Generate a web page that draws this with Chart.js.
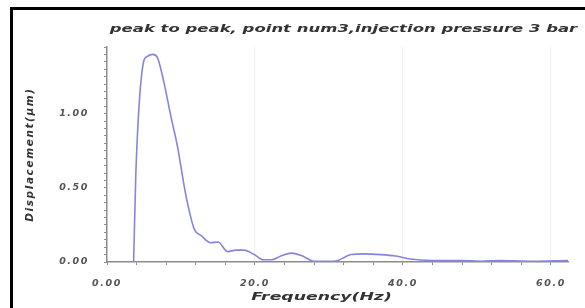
<!DOCTYPE html>
<html>
<head>
<meta charset="utf-8">
<script src="https://cdn.jsdelivr.net/npm/chart.js@4"></script>
<style>
  html, body { margin: 0; padding: 0; background: #fff; }
  #wrap { position: relative; width: 585px; height: 308px; overflow: hidden; }
  #frame {
    position: absolute; left: 10px; top: 7px; width: 600px; height: 320px;
    border-left: 3px solid #000; border-top: 3px solid #000;
  }
  canvas { position: absolute; left: 0; top: 0; }
</style>
</head>
<body>
<div id="wrap">
  <div id="frame"></div>
  <canvas id="chart" width="585" height="308"></canvas>
</div>
<script>
'use strict';

// ── Data ────────────────────────────────────────────────────────────────────

const freqHz = [3.6, 3.9, 4.9, 5.4, 6.2, 6.8, 7.7, 8.6, 9.6, 10.4, 11.0, 11.8,
                12.7, 14.0, 15.0, 16.3, 17.4, 18.5, 19.9, 21.1, 22.2, 23.5,
                24.9, 26.2, 28.0, 30.7, 33.0, 34.7, 37.0, 39.0, 41.0, 43.8,
                47.8, 50.5, 53.2, 57.3, 62.3];
const dispUm = [0.00, 0.60, 1.34, 1.385, 1.40, 1.38, 1.21, 0.99, 0.76, 0.52,
                0.37, 0.22, 0.18, 0.13, 0.135, 0.07, 0.08, 0.08, 0.05, 0.015,
                0.015, 0.04, 0.06, 0.045, 0.005, 0.005, 0.05, 0.055, 0.05,
                0.04, 0.02, 0.01, 0.01, 0.005, 0.01, 0.005, 0.01];

const xTickValues = [0, 4, 8, 12, 16, 20, 24, 28, 32, 36, 40, 44, 48, 52, 56, 60];
const xTickLabels = { 0: '0.00', 20: '20.0', 40: '40.0', 60: '60.0' };
const yTickLabels = { 0: '0.00', 0.5: '0.50', 1: '1.00' };

const TITLE   = 'peak to peak, point num3,injection pressure 3 bar';
const X_TITLE = 'Frequency(Hz)';
const Y_TITLE = 'Displacement(\u03bcm)';

// ── Chart ───────────────────────────────────────────────────────────────────

const FONT = 'DejaVu Sans, Verdana, sans-serif';
const AXIS = '#8c8c8c';
const STRETCH = 1.57;   // the source image is stretched sideways

const wideText = {
  id: 'wideText',
  beforeLayout(chart) { chart.ctx.letterSpacing = '1.6px'; },
  beforeDraw(chart)   { chart.ctx.letterSpacing = '1.6px'; },
  afterDraw(chart) {
    const { ctx, chartArea } = chart;
    const cx = (chartArea.left + chartArea.right) / 2;
    const put = (text, size, x, y) => {
      ctx.save();
      ctx.font = 'italic bold ' + size + 'px ' + FONT;
      ctx.translate(x, y);
      ctx.scale(STRETCH, 1);
      ctx.fillText(text, 0, 0);
      ctx.restore();
    };
    ctx.save();
    ctx.letterSpacing = '0px';
    ctx.fillStyle = '#333';
    ctx.textAlign = 'center';
    ctx.textBaseline = 'middle';
    put(TITLE, 10.5, cx + 6, 29);
    put(X_TITLE, 11, cx - 16, 297);
    ctx.restore();
  },
};

new Chart(document.getElementById('chart'), {
  type: 'line',
  data: {
    datasets: [{
      data: freqHz.map((f, i) => ({ x: f, y: dispUm[i] })),
      borderColor: '#8585e0',
      borderWidth: 1.6,
      pointRadius: 0,
      cubicInterpolationMode: 'monotone',
      fill: false,
    }],
  },
  plugins: [wideText],
  options: {
    responsive: false,
    animation: false,
    layout: { padding: { left: 24, right: 17, top: 47, bottom: 4 } },
    plugins: {
      legend: { display: false },
      tooltip: { enabled: false },
      title: { display: false },
    },
    scales: {
      x: {
        type: 'linear',
        min: 0,
        max: 62.3,
        afterBuildTicks: (axis) => { axis.ticks = xTickValues.map(v => ({ value: v })); },
        afterFit: (axis) => { axis.height = 42; },
        border: { color: AXIS, width: 1.5 },
        grid: {
          color: (c) => (c.tick && c.tick.value % 20 === 0 && c.tick.value !== 0) ? '#efefef' : 'rgba(0,0,0,0)',
          tickColor: AXIS,
          tickLength: 3,
        },
        ticks: {
          autoSkip: false,
          maxRotation: 0,
          color: '#555',
          padding: 13,
          font: { family: FONT, size: 9.5, weight: 'bold', style: 'italic' },
          callback: (v) => xTickLabels[v] || '',
        },
      },
      y: {
        min: 0,
        max: 1.45,
        afterBuildTicks: (axis) => {
          const t = [];
          for (let i = 0; i <= 29; i++) t.push({ value: Math.round(i * 5) / 100 });
          axis.ticks = t;
        },
        afterFit: (axis) => { axis.width = 83; },
        border: { color: AXIS, width: 1.5 },
        grid: {
          drawOnChartArea: false,
          tickColor: AXIS,
          tickLength: 3,
        },
        ticks: {
          autoSkip: false,
          color: '#555',
          padding: 15,
          font: { family: FONT, size: 9.5, weight: 'bold', style: 'italic' },
          callback: (v) => yTickLabels[v] || '',
        },
        title: {
          display: true,
          text: Y_TITLE,
          color: '#333',
          padding: { top: 0, bottom: 0 },
          font: { family: FONT, size: 10.5, weight: 'bold', style: 'italic' },
        },
      },
    },
  },
});
</script>
</body>
</html>
